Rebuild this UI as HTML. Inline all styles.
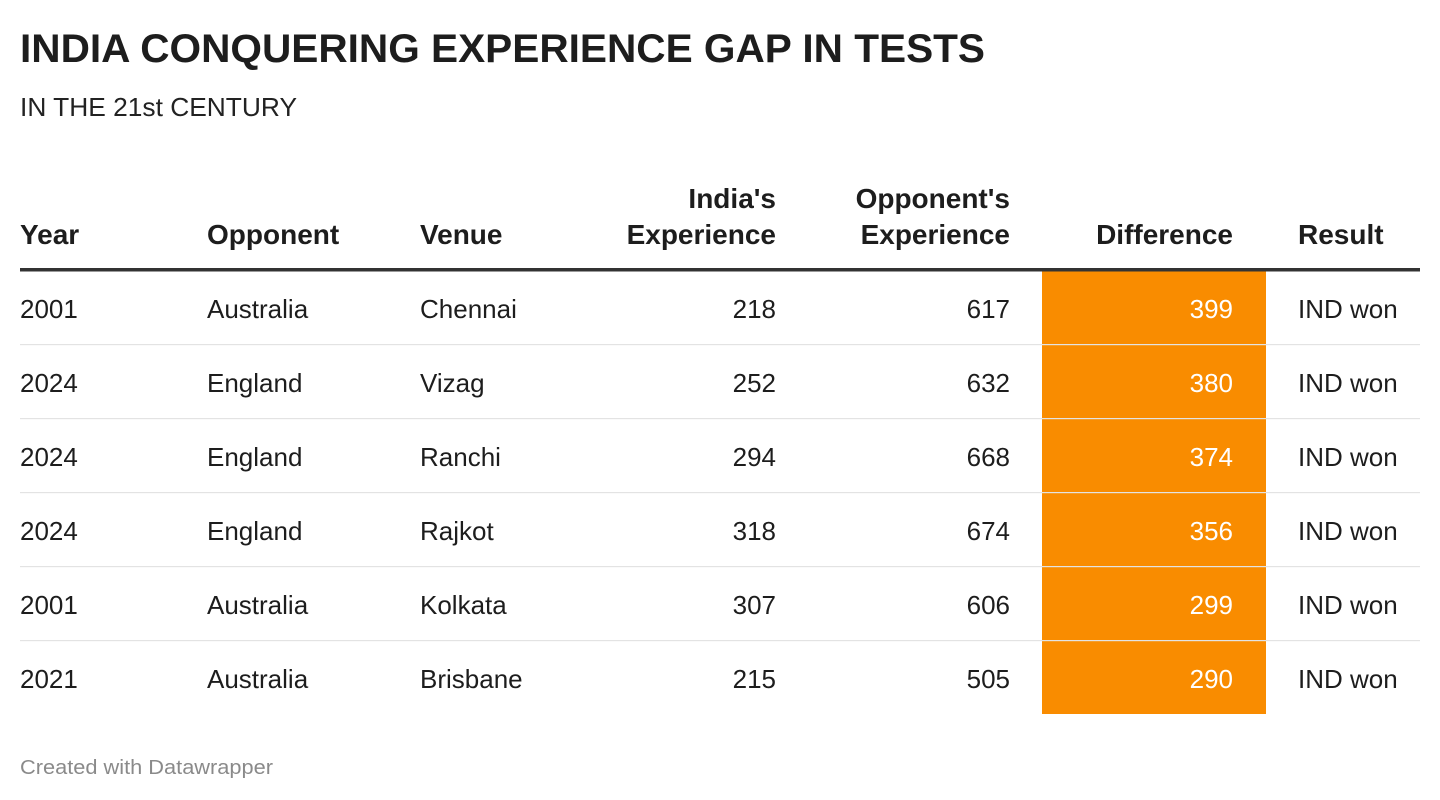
<!DOCTYPE html>
<html><head><meta charset="utf-8"><style>html,body{margin:0;padding:0;background:#fff;}svg{display:block;}</style></head>
<body>
<svg width="1440" height="800" xmlns="http://www.w3.org/2000/svg" font-family="'Liberation Sans', sans-serif">
<rect width="1440" height="800" fill="#fff"/>
<text x="20" y="62" font-size="40" font-weight="bold" fill="#1d1d1d" textLength="965" lengthAdjust="spacingAndGlyphs">INDIA CONQUERING EXPERIENCE GAP IN TESTS</text>
<text x="20" y="116" font-size="26" fill="#222" textLength="277" lengthAdjust="spacingAndGlyphs">IN THE 21st CENTURY</text>
<rect x="1042" y="271" width="224" height="443" fill="#f98c00"/>
<g font-size="28" font-weight="bold" fill="#1d1d1d">
<text x="20" y="244">Year</text>
<text x="207" y="244">Opponent</text>
<text x="420" y="244">Venue</text>
<text x="776" y="208" text-anchor="end">India's</text>
<text x="776" y="244" text-anchor="end">Experience</text>
<text x="1010" y="208" text-anchor="end">Opponent's</text>
<text x="1010" y="244" text-anchor="end">Experience</text>
<text x="1233" y="244" text-anchor="end">Difference</text>
<text x="1298" y="244">Result</text>
</g>
<rect x="20" y="268" width="1400" height="3.5" fill="#333"/>
<g fill="#e3e3e3">
<rect x="20" y="344" width="1400" height="1.2"/>
<rect x="20" y="418" width="1400" height="1.2"/>
<rect x="20" y="492" width="1400" height="1.2"/>
<rect x="20" y="566" width="1400" height="1.2"/>
<rect x="20" y="640" width="1400" height="1.2"/>
</g>
<g font-size="26" fill="#1d1d1d">
<text x="20" y="318">2001</text><text x="207" y="318">Australia</text><text x="420" y="318">Chennai</text><text x="776" y="318" text-anchor="end">218</text><text x="1010" y="318" text-anchor="end">617</text><text x="1233" y="318" text-anchor="end" fill="#fff">399</text><text x="1298" y="318">IND won</text>
<text x="20" y="392">2024</text><text x="207" y="392">England</text><text x="420" y="392">Vizag</text><text x="776" y="392" text-anchor="end">252</text><text x="1010" y="392" text-anchor="end">632</text><text x="1233" y="392" text-anchor="end" fill="#fff">380</text><text x="1298" y="392">IND won</text>
<text x="20" y="466">2024</text><text x="207" y="466">England</text><text x="420" y="466">Ranchi</text><text x="776" y="466" text-anchor="end">294</text><text x="1010" y="466" text-anchor="end">668</text><text x="1233" y="466" text-anchor="end" fill="#fff">374</text><text x="1298" y="466">IND won</text>
<text x="20" y="540">2024</text><text x="207" y="540">England</text><text x="420" y="540">Rajkot</text><text x="776" y="540" text-anchor="end">318</text><text x="1010" y="540" text-anchor="end">674</text><text x="1233" y="540" text-anchor="end" fill="#fff">356</text><text x="1298" y="540">IND won</text>
<text x="20" y="614">2001</text><text x="207" y="614">Australia</text><text x="420" y="614">Kolkata</text><text x="776" y="614" text-anchor="end">307</text><text x="1010" y="614" text-anchor="end">606</text><text x="1233" y="614" text-anchor="end" fill="#fff">299</text><text x="1298" y="614">IND won</text>
<text x="20" y="688">2021</text><text x="207" y="688">Australia</text><text x="420" y="688">Brisbane</text><text x="776" y="688" text-anchor="end">215</text><text x="1010" y="688" text-anchor="end">505</text><text x="1233" y="688" text-anchor="end" fill="#fff">290</text><text x="1298" y="688">IND won</text>
</g>
<text x="20" y="774" font-size="20" fill="#8a8a8a" textLength="253" lengthAdjust="spacingAndGlyphs">Created with Datawrapper</text>
</svg>
</body></html>
